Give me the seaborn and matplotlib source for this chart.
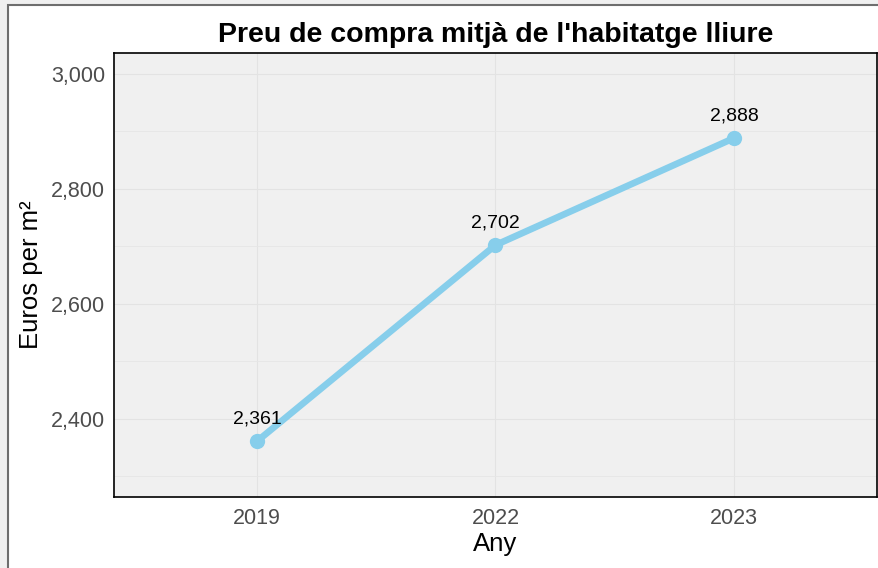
import matplotlib
matplotlib.use("Agg")
import matplotlib.pyplot as plt
import matplotlib.patches as mpatches
import pandas as pd
import seaborn as sns

# data
years = ["2019", "2022", "2023"]
prices = [2361, 2702, 2888]
y_ticks = [2400, 2600, 2800, 3000]
y_minor = [2300, 2500, 2700, 2900]

df = pd.DataFrame({"Any": years, "preu": prices})

sns.set_style("white")
plt.rcParams["font.family"] = ["Liberation Sans", "DejaVu Sans"]

fig = plt.figure(figsize=(8.79, 5.68), dpi=100)
fig.patch.set_facecolor("#F0F0F0")
# window-like frame (screenshot border on top and left)
frame = mpatches.Rectangle((8 / 879, -0.1), 1.2, (568 - 5) / 568 + 0.1,
                           transform=fig.transFigure, facecolor="white",
                           edgecolor="#6E6E6E", linewidth=1.5, zorder=-10)
fig.patches.append(frame)

ax = fig.add_axes([114 / 879, 1 - 497 / 568, (877 - 114) / 879, (497 - 53) / 568])
ax.set_facecolor("#F0F0F0")

sns.lineplot(data=df, x="Any", y="preu", ax=ax, color="#87CEEB",
             linewidth=4.8, marker="o", markersize=11, markeredgewidth=0,
             sort=False, zorder=3)

for i, (yr, v) in enumerate(zip(years, prices)):
    ax.annotate(f"{v:,}", (i, v), xytext=(0, 10), textcoords="offset points",
                ha="center", va="bottom", fontsize=14, color="black", zorder=4)

ax.set_xlim(-0.6, 2.6)
ax.set_ylim(2264, 3036)
ax.set_yticks(y_ticks)
ax.set_yticklabels([f"{t:,}" for t in y_ticks])
ax.set_yticks(y_minor, minor=True)
ax.grid(True, which="major", color="#E3E3E3", linewidth=0.8)
ax.grid(True, which="minor", axis="y", color="#E6E6E6", linewidth=0.6)
ax.set_axisbelow(True)

for s in ax.spines.values():
    s.set_color("black")
    s.set_linewidth(1.2)

ax.tick_params(axis="both", which="major", labelsize=15.5, labelcolor="#4D4D4D",
               color="#E8E8E8", length=3, width=1)
ax.tick_params(axis="y", which="minor", length=0)
ax.tick_params(axis="x", pad=5)

ax.set_xlabel("Any", fontsize=18.5, color="black", labelpad=2)
ax.set_ylabel("Euros per m²", fontsize=18.5, color="black", labelpad=6)
ax.set_title("Preu de compra mitjà de l'habitatge lliure", fontsize=20.5,
             fontweight="bold", color="black", pad=8)

fig.savefig("out.png", dpi=100, facecolor=fig.get_facecolor())
